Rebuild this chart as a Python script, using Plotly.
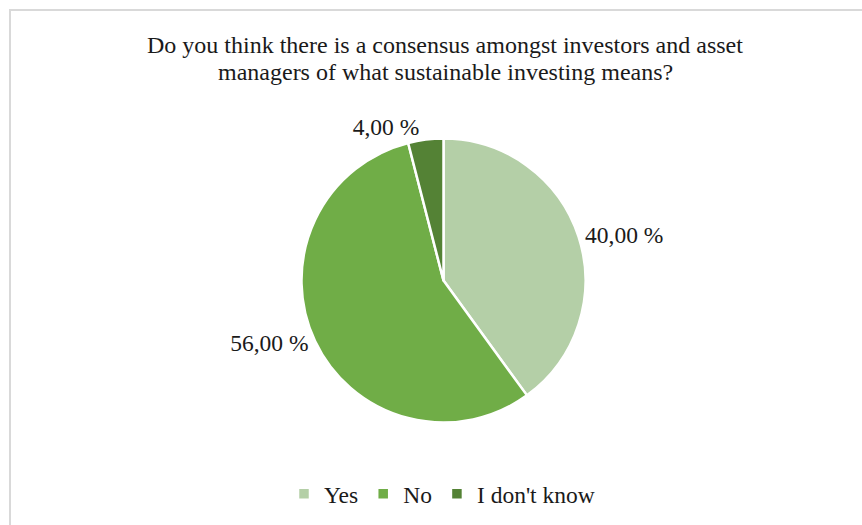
import plotly.graph_objects as go

# Survey answers and their shares (percent)
answers = ["Yes", "No", "I don't know"]
shares = [40.0, 56.0, 4.0]
slice_colors = ["#b4cfa7", "#70ad47", "#548235"]

title_lines = ["Do you think there is a consensus amongst investors and asset",
               "managers of what sustainable investing means?"]

W, H = 862, 525
serif = "Liberation Serif, Times New Roman, serif"
ink = "#1a1a1a"

# percentage labels in the "40,00 %" style (comma decimal)
pct_labels = [f"{v:.2f}".replace(".", ",") + " %" for v in shares]

fig = go.Figure(
    go.Pie(
        labels=answers,
        values=shares,
        text=pct_labels,
        textinfo="text",
        textposition="outside",
        textfont=dict(family=serif, size=23.5, color=ink),
        sort=False,
        direction="clockwise",
        rotation=0,
        marker=dict(colors=slice_colors, line=dict(color="white", width=2.5)),
        domain=dict(x=[(443.5 - 142) / W, (443.5 + 142) / W],
                    y=[1 - (280.5 + 142) / H, 1 - (280.5 - 142) / H]),
        hoverinfo="label+percent",
    )
)

# two-line chart title, set as annotations for tighter line spacing
title_ann = [
    dict(text=line, xref="paper", yref="paper", x=445 / W, y=1 - yc / H,
         xanchor="center", yanchor="middle", showarrow=False,
         font=dict(family=serif, size=24, color=ink))
    for line, yc in zip(title_lines, [45, 72])
]

fig.update_layout(
    width=W,
    height=H,
    margin=dict(l=0, r=0, t=0, b=0),
    paper_bgcolor="white",
    plot_bgcolor="white",
    annotations=title_ann,
    showlegend=True,
    legend=dict(
        orientation="h",
        x=442 / W,
        xanchor="center",
        y=1 - 494 / H,
        yanchor="middle",
        font=dict(family=serif, size=23.5, color=ink),
        itemwidth=30,
        traceorder="normal",
    ),
    shapes=[
        # chart area frame (top and left edges visible)
        dict(type="rect", xref="paper", yref="paper",
             x0=10 / W, x1=1.02, y0=-0.02, y1=1 - 10 / H,
             line=dict(color="#d9d9d9", width=2), fillcolor="rgba(0,0,0,0)",
             layer="below"),
    ],
)

fig.write_html("out.html")
